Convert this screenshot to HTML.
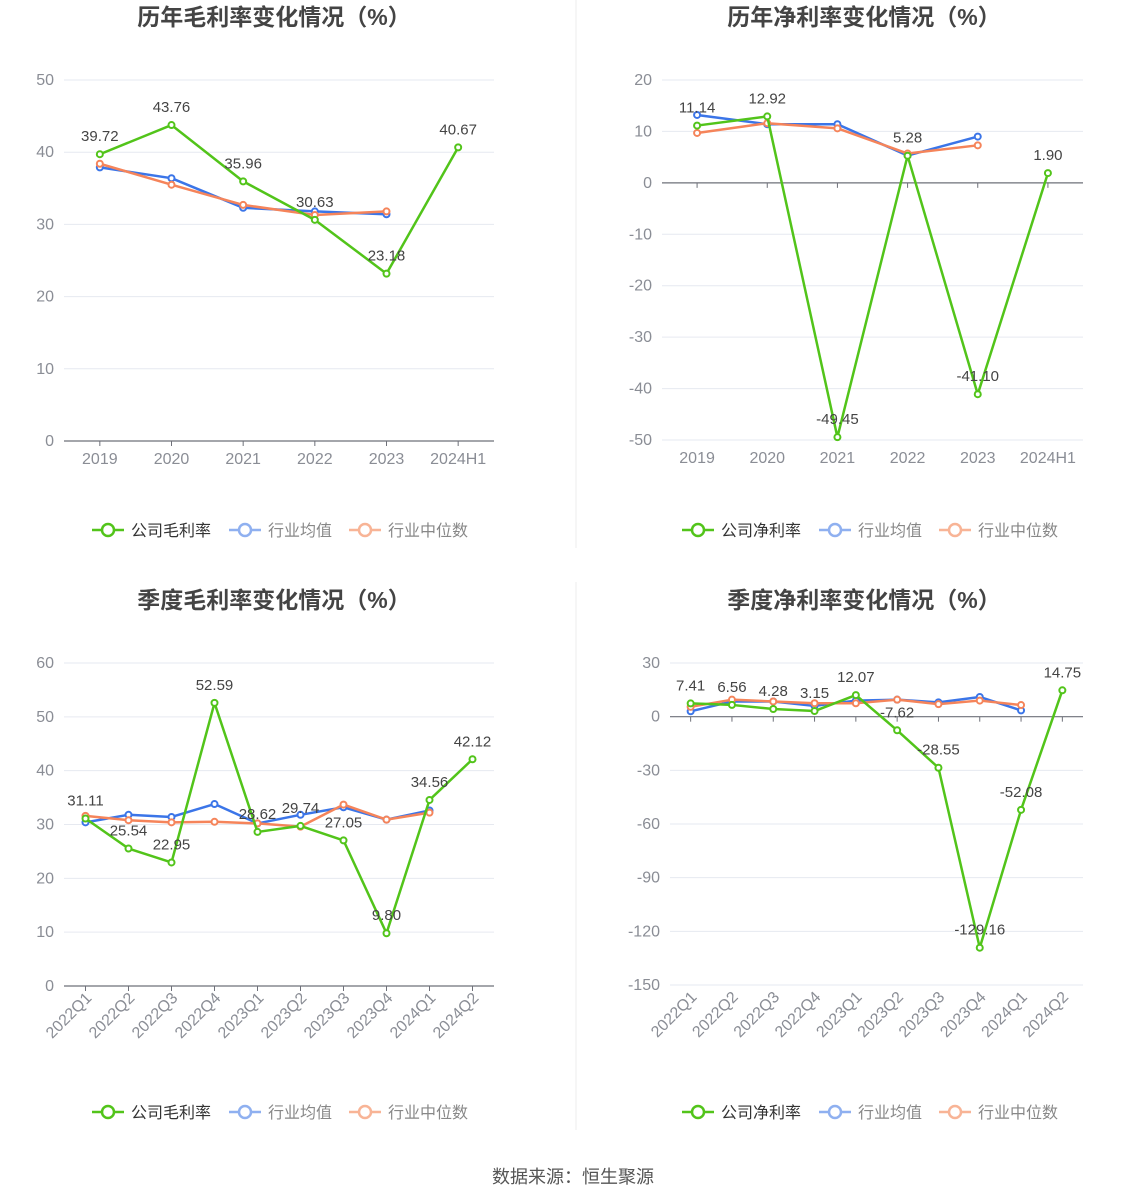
<!DOCTYPE html>
<html><head><meta charset="utf-8">
<style>
html,body{margin:0;padding:0;background:#fff;width:1147px;height:1202px;overflow:hidden;font-family:"Liberation Sans","Noto Sans CJK SC",sans-serif;}
svg{position:absolute;left:0;top:0}
</style></head>
<body>
<svg id="s" width="1147" height="1202" xmlns="http://www.w3.org/2000/svg"></svg>
<script>
// ---- data ----
const yearCats = ["2019","2020","2021","2022","2023","2024H1"];
const quarterCats = ["2022Q1","2022Q2","2022Q3","2022Q4","2023Q1","2023Q2","2023Q3","2023Q4","2024Q1","2024Q2"];
const grossYearCompany = [39.72,43.76,35.96,30.63,23.18,40.67];
const grossYearAvg = [37.9,36.4,32.3,31.8,31.4];
const grossYearMedian = [38.4,35.5,32.7,31.3,31.8];
const netYearCompany = [11.14,12.92,-49.45,5.28,-41.10,1.90];
const netYearAvg = [13.2,11.4,11.4,5.3,9.0];
const netYearMedian = [9.7,11.6,10.6,5.7,7.3];
const grossQCompany = [31.11,25.54,22.95,52.59,28.62,29.74,27.05,9.80,34.56,42.12];
const grossQAvg = [30.4,31.8,31.4,33.8,30.2,31.8,33.2,30.9,32.6];
const grossQMedian = [31.6,30.8,30.4,30.5,30.2,29.6,33.7,30.9,32.2];
const netQCompany = [7.41,6.56,4.28,3.15,12.07,-7.62,-28.55,-129.16,-52.08,14.75];
const netQAvg = [3,8.5,8.5,6,9,9.5,8,11,3.5];
const netQMedian = [5.5,9.5,8.5,7.5,7.5,9.5,7,9,6.5];
const grossYearTicks = [0,10,20,30,40,50];
const netYearTicks = [-50,-40,-30,-20,-10,0,10,20];
const grossQTicks = [0,10,20,30,40,50,60];
const netQTicks = [-150,-120,-90,-60,-30,0,30];

const NS="http://www.w3.org/2000/svg";
const svg=document.getElementById('s');
function mk(tag,attrs,parent,text){const e=document.createElementNS(NS,tag);for(const k in attrs)e.setAttribute(k,attrs[k]);if(text!==undefined)e.textContent=text;(parent||svg).appendChild(e);return e;}
const GREEN="#52c41a",BLUE="#3b75e8",ORANGE="#f5845a";

function chart(o){
  const g=mk('g',{});
  
  
  const t=mk('text',{x:o.cx,y:o.titleY,'text-anchor':'middle','font-size':23,'font-weight':'bold',fill:'#444'},g,o.title);
  
  
  const ymin=o.ticks[0],ymax=o.ticks[o.ticks.length-1];
  const Y=v=>o.y1-(v-ymin)/(ymax-ymin)*(o.y1-o.y0);
  const n=o.cats.length,bw=(o.x1-o.x0)/n;
  const X=i=>o.x0+bw*(i+0.5);
  o.ticks.forEach(v=>{
    if(v!==o.base){const l=mk('line',{x1:o.x0,x2:o.x1,y1:Y(v),y2:Y(v),stroke:'#e6e9f0','stroke-width':1},g);
    }
    const tl=mk('text',{x:o.x0-10,y:Y(v)+5,'text-anchor':'end','font-size':16,fill:'#8a8d95'},g,String(v));
    
  });
  const ax=mk('line',{x1:o.x0,x2:o.x1,y1:Y(o.base),y2:Y(o.base),stroke:'#6e7079','stroke-width':1.2},g);
  
  o.cats.forEach((c,i)=>{
    mk('line',{x1:X(i),x2:X(i),y1:Y(o.base),y2:Y(o.base)+5,stroke:'#6e7079'},g);
    let lab;
    if(o.rot){lab=mk('text',{x:X(i)+7,y:o.y1+13,'text-anchor':'end','font-size':16,fill:'#8a8d95',transform:`rotate(-45 ${X(i)+7} ${o.y1+13})`},g,c);}
    else lab=mk('text',{x:X(i),y:o.y1+23,'text-anchor':'middle','font-size':16,fill:'#8a8d95'},g,c);
    
  });
  function series(vals,col,nm,labels){
    const pts=vals.map((v,i)=>X(i)+','+Y(v)).join(' ');
    const pl=mk('polyline',{points:pts,fill:'none',stroke:col,'stroke-width':2.5,'stroke-linejoin':'round'},g);
    
    vals.forEach((v,i)=>{
      const c=mk('circle',{cx:X(i),cy:Y(v),r:3,fill:'#fff',stroke:col,'stroke-width':2},g);
      
      if(labels){const tx=mk('text',{x:X(i),y:Y(v)-13,'text-anchor':'middle','font-size':15,fill:'#444'},g,v.toFixed(2));
      }
    });
  }
  series(o.avg,BLUE,'industry-average');
  series(o.med,ORANGE,'industry-median');
  series(o.comp,GREEN,'company',true);
  const ly=o.legY,lx=o.cx-182;
  const items=[[o.compName,GREEN,'#333'],['行业均值','#8fb0f0','#888'],['行业中位数','#f8b496','#888']];
  const offs=[0,137,257];
  items.forEach((it,k)=>{
    const lg=mk('g',{},g);
    
    const x=lx+offs[k];
    mk('line',{x1:x,x2:x+32,y1:ly,y2:ly,stroke:it[1],'stroke-width':2.5},lg);
    mk('circle',{cx:x+16,cy:ly,r:6,fill:'#fff',stroke:it[1],'stroke-width':2.5},lg);
    mk('text',{x:x+39,y:ly+6,'font-size':16,fill:it[2]},lg,it[0]);
  });
}
chart({name:'annual-gross-margin-chart',title:'历年毛利率变化情况（%）',cx:274,titleY:25,x0:64,x1:494,y0:80,y1:441,ticks:grossYearTicks,base:0,cats:yearCats,comp:grossYearCompany,avg:grossYearAvg,med:grossYearMedian,compName:'公司毛利率',legY:530});
chart({name:'annual-net-margin-chart',title:'历年净利率变化情况（%）',cx:864,titleY:25,x0:662,x1:1083,y0:80,y1:440,ticks:netYearTicks,base:0,cats:yearCats,comp:netYearCompany,avg:netYearAvg,med:netYearMedian,compName:'公司净利率',legY:530});
chart({name:'quarterly-gross-margin-chart',title:'季度毛利率变化情况（%）',cx:274,titleY:608,x0:64,x1:494,y0:663,y1:986,ticks:grossQTicks,base:0,cats:quarterCats,comp:grossQCompany,avg:grossQAvg,med:grossQMedian,compName:'公司毛利率',legY:1112,rot:true});
chart({name:'quarterly-net-margin-chart',title:'季度净利率变化情况（%）',cx:864,titleY:608,x0:670,x1:1083,y0:663,y1:985,ticks:netQTicks,base:0,cats:quarterCats,comp:netQCompany,avg:netQAvg,med:netQMedian,compName:'公司净利率',legY:1112,rot:true});
const dv=mk('line',{x1:576,x2:576,y1:0,y2:548,stroke:'#eee'});

const dv2=mk('line',{x1:576,x2:576,y1:582,y2:1130,stroke:'#eee'});

const src=mk('text',{x:573,y:1183,'text-anchor':'middle','font-size':18,fill:'#555'},svg,'数据来源：恒生聚源');

</script>
</body></html>
